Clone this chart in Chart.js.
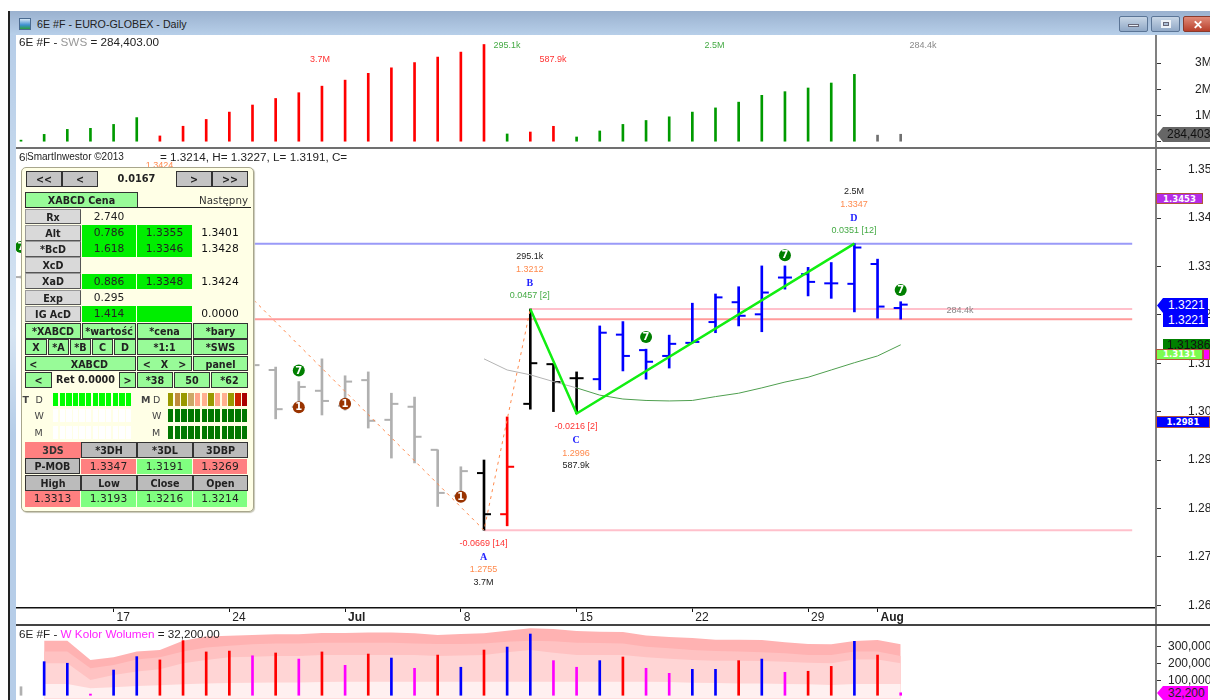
<!DOCTYPE html>
<html><head><meta charset="utf-8">
<script src="https://cdn.jsdelivr.net/npm/chart.js@4"></script>
<style>
html,body{margin:0;padding:0;background:#fff;width:1210px;height:700px;overflow:hidden;font-family:"Liberation Sans",Arial,sans-serif}
canvas{position:absolute;left:0}
.a{position:absolute;box-sizing:border-box;white-space:nowrap}
.p{position:absolute;box-sizing:border-box;white-space:nowrap;text-align:center;font-family:"DejaVu Sans",sans-serif;font-size:10.7px;color:#222}
.btn{background:#c4c4c4;border:1px solid #333;font-weight:bold;font-size:9.6px;color:#222}
.grn{background:#98fb98;border:1px solid #333;font-weight:bold;font-size:9.6px;color:#222}
.lab{background:#d9d9d9;border:1px solid #999;border-bottom-color:#555;border-right-color:#555;font-weight:bold;font-size:9.6px;color:#222}
</style></head><body>
<script>
// ---------- data ----------
const barIndex = [0,1,2,3,4,5,6,7,8,9,10,11,12,13,14,15,16,17,18,19,20,21,22,23,24,25,26,27,28,29,30,31,32,33,34,35,36,37,38];
const swsM = [.06,.28,.47,.51,.66,.92,.22,.59,.85,1.13,1.40,1.65,1.87,2.12,2.35,2.61,2.82,3.02,3.23,3.42,3.71,.295,.37,.588,.18,.41,.66,.81,.95,1.13,1.29,1.51,1.77,1.91,2.05,2.24,2.57,.25,.284];
const swsKind = 'gggggg' + 'rrrrrrrrrrrrrrr' + 'g' + 'rr' + 'ggggggggggggg' + 'nn';
const open_ = [1.3278,null,null,null,null,null,null,null,null,null,1.3060,1.3086,1.3010,1.3043,1.3012,1.3065,1.2983,1.3010,1.2921,1.2826,1.2873,1.2788,1.3016,1.3098,1.3069,1.3067,1.3159,1.3127,1.3115,1.3142,1.3185,1.3226,1.3201,1.3277,1.3284,1.3265,1.3264,1.3305,1.3214];
const high_ = [1.3280,null,null,null,null,null,null,null,null,null,1.3110,1.3092,1.3062,1.3109,1.3074,1.3082,1.3038,1.3030,1.2921,1.2886,1.2900,1.2989,1.3212,1.3098,1.3082,1.3177,1.3186,1.3129,1.3158,1.3224,1.3243,1.3258,1.3301,1.3301,1.3298,1.3308,1.3347,1.3315,1.3227];
const low_  = [1.3276,null,null,null,null,null,null,null,null,null,1.3040,1.2985,1.3007,1.2993,1.3003,1.2966,1.2904,1.2894,1.2804,1.2817,1.2755,1.2764,1.3005,1.3000,1.2996,1.3045,1.3084,1.3067,1.3090,1.3142,1.3163,1.3177,1.3165,1.3253,1.3239,1.3234,1.3206,1.3193,1.3191];
const close_= [1.3278,null,null,null,null,null,null,null,null,null,1.3096,1.3005,1.3051,1.3022,1.3062,1.2981,1.3016,1.2948,1.2832,1.2877,1.2788,1.2886,1.3100,1.3061,1.3069,1.3163,1.3115,1.3103,1.3140,1.3144,1.3236,1.3198,1.3246,1.3277,1.3268,1.3265,1.3339,1.3217,1.3221];
const ohlcKind = 'ssssssssssssssssssss' + 'k' + 'r' + 'kkk' + 'bbbbbbbbbbbbbb';
const maIndex = [20,21,22,23,24,25,26,27,28,29,30,31,32,33,34,35,36,37,38];
const maValue = [1.3109,1.3086,1.3076,1.3062,1.3049,1.3034,1.3026,1.3023,1.3022,1.3023,1.3031,1.3038,1.3049,1.3061,1.3071,1.3086,1.3101,1.3115,1.3138];
const pivotName = ['X','A','B','C','D'];
const pivotIndex = [6,20,22,24,36];
const pivotPrice = [1.3424,1.2755,1.3212,1.2996,1.3347];
const pivotDelta = ['','-0.0669 [14]','0.0457 [2]','-0.0216 [2]','0.0351 [12]'];
const pivotSws = ['','3.7M','295.1k','587.9k','2.5M'];
const levelA = 1.2755, levelB = 1.3212, levelD = 1.3347, levelL = 1.3191;
const levelEnd = 48;
const sevenIndex = [0,12,27,33,38];
const sevenPrice = [1.3340,1.3085,1.3154,1.3323,1.3251];
const oneIndex = [12,14,19];
const onePrice = [1.3009,1.3016,1.2824];
const priceTicks = [1.26,1.27,1.28,1.29,1.30,1.31,1.32,1.33,1.34,1.35];
const swsTicks = [0,1,2,3];
const volTicks = [100000,200000,300000];
const dateTickIndex = [4,9,14,19,24,29,34,37];
const dateTickLabel = ['17','24','Jul','8','15','22','29','Aug'];
const volK = [67,211,202,25,163,240,221,332,267,272,245,261,226,267,190,255,232,173,249,179,278,295,370,217,179,217,238,173,144,167,167,217,226,150,156,184,328,249,32.2];
const volKind = 'n' + 'bb' + 'm' + 'bb' + 'rrrr' + 'm' + 'r' + 'm' + 'r' + 'm' + 'r' + 'b' + 'm' + 'r' + 'b' + 'r' + 'bb' + 'mm' + 'b' + 'r' + 'mm' + 'bb' + 'r' + 'b' + 'm' + 'rr' + 'b' + 'r' + 'm';
const bandIndex = [1,2,3,4,5,6,7,8,9,10,11,12,13,14,15,16,17,18,19,20,21,22,23,24,25,26,27,28,29,30,31,32,33,34,35,36,37,38];
const band4 = [332,332,221,236,269,278,332,355,360,364,368,368,376,376,378,378,374,364,370,374,389,403,399,387,383,382,362,353,347,337,337,336,322,313,311,330,336,311];
const band3 = [269,269,173,192,224,236,269,292,303,311,316,316,320,320,320,320,316,313,313,316,326,332,328,320,318,316,297,288,278,272,269,265,259,249,249,269,269,244];
const band2 = [202,202,106,134,154,167,202,221,236,240,244,244,249,249,249,249,249,244,246,249,265,278,263,249,249,249,236,228,221,217,217,215,211,205,202,224,224,202];
const band1 = [83,83,58,64,71,75,81,85,88,90,92,92,94,96,96,96,96,96,96,96,96,96,96,96,96,96,96,94,90,88,86,85,83,81,77,83,83,83];

// ---------- scale frames ----------
const XMIN=-0.216, XMAX=48.985;
const palette={g:'#009a00',r:'#ff0000',n:'#707070',s:'#b0b0b0',k:'#000000',b:'#0000ff',m:'#ff00ff'};
const AXFONT={family:'"Liberation Sans",Arial,sans-serif',size:12};
function yScale(min,max,ticks,cb,pad){
  return {position:'right',min,max,
    afterBuildTicks:s=>{s.ticks=ticks.map(v=>({value:v}));},
    afterFit:s=>{s.width=55;s.paddingTop=0;s.paddingBottom=0;},
    border:{display:false},
    grid:{drawOnChartArea:false,drawTicks:true,tickLength:6,tickColor:'#333',tickWidth:1},
    ticks:{callback:cb,font:AXFONT,color:'#222',padding:pad,crossAlign:'near',autoSkip:false}};
}
function xHidden(){return {type:'linear',min:XMIN,max:XMAX,offset:false,display:false,grid:{offset:false}};}
function mk(id,top,h){const c=document.createElement('canvas');c.id=id;c.width=1210;c.height=h;c.style.top=top+'px';c.style.width='1210px';c.style.height=h+'px';document.body.appendChild(c);return c;}
const base={responsive:false,animation:false,events:[],devicePixelRatio:1,layout:{autoPadding:false,padding:{left:16,right:0,top:0,bottom:0}},plugins:{legend:{display:false},tooltip:{enabled:false}}};

// ---------- SWS panel ----------
new Chart(mk('sws',35,112),{type:'bar',data:{datasets:[{
  data:barIndex.map(i=>({x:i,y:swsM[i]})),
  backgroundColor:barIndex.map(i=>palette[swsKind[i]]),barThickness:2}]},
  options:{...base,scales:{x:xHidden(),y:yScale(-0.2023,4.0725,swsTicks,v=>v?v+'M':'',34)}}});

// ---------- price panel ----------
const Y0=411.6,PX=4840;
const PMAX=1.30+(Y0-148)/PX, PMIN=1.30+(Y0-608)/PX;
const held=barIndex.filter(i=>high_[i]!==null);
const dashDs=(arr,rot)=>({type:'scatter',order:5,data:held.map(i=>({x:i,y:arr[i]})),pointStyle:'dash',pointRadius:7,pointBorderWidth:2,pointRotation:rot,
  pointBorderColor:c=>palette[ohlcKind[c.raw.x]],pointBackgroundColor:'transparent'});
const hline=(from,v,col,w)=>({type:'line',order:20,data:[{x:from,y:v},{x:levelEnd,y:v}],borderColor:col,borderWidth:w,pointRadius:0,fill:false});
const pt=(idx,arr)=>idx.map((v,k)=>({x:v,y:arr[k]}));
const textPlugin={id:'texts',afterDatasetsDraw(ch){
  const c=ch.ctx,x=ch.scales.x,y=ch.scales.y;
  c.save();c.textAlign='center';c.textBaseline='middle';
  const F='"Liberation Sans",Arial,sans-serif';
  const put=(s,px,py,col,font)=>{c.fillStyle=col;c.font=font;c.fillText(s,px,py);};
  c.beginPath();c.rect(0,0,1155,460);c.clip();
  pivotName.forEach((n,k)=>{
    const px=x.getPixelForValue(pivotIndex[k])-0.5,py=y.getPixelForValue(pivotPrice[k]);
    const price=pivotPrice[k].toFixed(4),d=pivotDelta[k],v=pivotSws[k];
    const nF='bold 10px "Liberation Serif",serif',sF='9px '+F;
    if(n==='X'){put(price,px,py-41,'#ff8a4d',sF);return;}
    if(n==='A'||n==='C'){
      put(d,px,py+13,'#ff3333',sF);put(n,px,py+27,'#2222ff',nF);put(price,px,py+39.5,'#ff8a4d',sF);put(v,px,py+52,'#222',sF);
    }else{
      put(v,px,py-52.5,'#222',sF);put(price,px,py-39,'#ff8a4d',sF);put(n,px,py-25.5,'#2222ff',nF);put(d,px,py-13.5,'#44aa44',sF);
    }
  });
  const df='bold 10px "DejaVu Sans",sans-serif';
  sevenIndex.forEach((v,k)=>put('7',x.getPixelForValue(v),y.getPixelForValue(sevenPrice[k])+.5,'#fff',df));
  oneIndex.forEach((v,k)=>put('1',x.getPixelForValue(v),y.getPixelForValue(onePrice[k])+.5,'#fff',df));
  c.restore();
}};
new Chart(mk('price',148,476),{type:'bar',plugins:[textPlugin],data:{datasets:[
  hline(0,levelL,'#ff9a9a',2),hline(pivotIndex[2],levelB,'#ffc0cb',2),hline(pivotIndex[1],levelA,'#ffc0cb',2),hline(0,levelD,'#9a9af8',2),
  {type:'bar',order:6,data:held.map(i=>({x:i,y:[low_[i],high_[i]]})),backgroundColor:held.map(i=>palette[ohlcKind[i]]),barThickness:2},
  dashDs(open_,180),dashDs(close_,0),
  {type:'line',order:4,data:pt(maIndex,maValue),borderWidth:1,pointRadius:0,fill:false,borderColor:'#4f9f4f',
    segment:{borderColor:c=>c.p0.parsed.x<24?'#b4b4b4':'#4f9f4f'}},
  {type:'line',order:3,data:pt(pivotIndex.slice(0,3),pivotPrice.slice(0,3)),borderColor:'#ff8a4d',borderWidth:1,borderDash:[3,4],pointRadius:0,fill:false},
  {type:'line',order:2,data:pt(pivotIndex.slice(2),pivotPrice.slice(2)),borderColor:'#11ee11',borderWidth:2.5,pointRadius:0,fill:false},
  {type:'scatter',order:1,data:pt(sevenIndex,sevenPrice),pointStyle:'circle',pointRadius:6,pointBorderWidth:0,pointBackgroundColor:'#007f00'},
  {type:'scatter',order:1,data:pt(oneIndex,onePrice),pointStyle:'circle',pointRadius:6,pointBorderWidth:0,pointBackgroundColor:'#993300'}
]},options:{...base,scales:{
  x:{type:'linear',min:XMIN,max:XMAX,offset:false,position:'bottom',
    afterBuildTicks:s=>{s.ticks=dateTickIndex.map(v=>({value:v}));},
    afterFit:s=>{s.height=16;s.paddingLeft=0;s.paddingRight=0;},
    border:{display:true,color:'#111',width:1.5},
    grid:{offset:false,drawOnChartArea:false,drawTicks:true,tickLength:4,tickColor:'#111',tickWidth:1},
    ticks:{autoSkip:false,maxRotation:0,minRotation:0,align:'start',labelOffset:3,padding:-2,color:'#222',
      font:c=>({family:AXFONT.family,size:12,weight:/[a-z]/i.test(dateTickLabel[c.index]||'')?'bold':'normal'}),
      callback:v=>dateTickLabel[dateTickIndex.indexOf(v)]}},
  y:yScale(PMIN,PMAX,priceTicks,v=>v.toFixed(2),27)}}});

// ---------- volume panel ----------
const vb=(arr,col,ord)=>({type:'line',order:ord,data:bandIndex.map((v,k)=>({x:v,y:arr[k]*1000})),backgroundColor:col,borderWidth:0,pointRadius:0,fill:'origin'});
new Chart(mk('vol',625,75),{type:'bar',data:{datasets:[
  vb(band4,'#ffb2b2',14),vb(band3,'#ffc2c2',13),vb(band2,'#ffd5d5',12),vb(band1,'#fff0f0',11),
  {type:'bar',order:1,base:18000,data:barIndex.map(i=>({x:i,y:volK[i]*1000})),backgroundColor:barIndex.map(i=>volKind[i]==='n'?'#b0b0b0':palette[volKind[i]]),barThickness:2}
]},options:{...base,scales:{x:xHidden(),y:yScale(-9200,421800,volTicks,v=>v.toLocaleString('en-US'),7)}}});

// ---------- window chrome ----------
function div(cls,x0,y0,x1,y1,css,html){const d=document.createElement('div');d.className=cls;d.style.cssText=`left:${x0}px;top:${y0}px;width:${x1-x0}px;height:${y1-y0}px;line-height:${y1-y0}px;`+(css||'');if(html!==undefined)d.innerHTML=html;document.body.appendChild(d);return d;}
div('a',8,11,10,700,'background:#222');
div('a',10,35,16,700,'background:linear-gradient(#b6cde8,#d6e4f2 45%,#b6cde8 60%,#b6cde8)');
div('a',10,11,1210,35,'background:linear-gradient(#9ab1cf,#b7cfe9)');
div('a',19,18,31,30,'background:linear-gradient(#d5e6f5,#3c8fd0 60%,#2aa040);border:1px solid #4a6a90');
div('a',37,16,400,32,'font-size:10.7px;color:#222','6E #F - EURO-GLOBEX - Daily');
const wb='border:1px solid #5b7596;border-radius:2px;text-align:center;font-weight:bold;color:#fff;';
div('a',1119,16,1148,32,wb+'background:linear-gradient(#c8d6e6,#90a8c6)');
div('a',1128,24,1139,27,'background:#e8eef6;border:1px solid #667');
div('a',1151,16,1180,32,wb+'background:linear-gradient(#c8d6e6,#90a8c6)');
div('a',1161,20,1171,28,'border:2px solid #eef3f8;outline:1px solid #667;outline-offset:-3px');
div('a',1183,16,1212,32,wb+'background:linear-gradient(#e08a78,#b8402c);font-size:12px;border-color:#8a3a2c;border-radius:2px','✕');
div('a',1155,35,1157,700,'background:#808080');
div('a',16,147,1210,148.5,'background:#707070');
div('a',16,624,1210,625.5,'background:#444');

// headings
div('a',19,35,500,49,'font-size:11.7px;color:#222','6E #F - <span style="color:#999">SWS</span> = 284,403.00');
div('a',19,150,30,164,'font-size:11.7px;color:#222','6E');
div('a',27,150,130,164,'font-size:10px;color:#222;background:#fff','SmartInwestor ©2013');
div('a',160,150,520,164,'font-size:11.7px;color:#222','= 1.3214, H= 1.3227, L= 1.3191, C=');
div('a',19,627,500,641,'font-size:11.7px;color:#222','6E #F - <span style="color:#ff22ff">W Kolor Wolumen</span> = 32,200.00');
const tag=(x,y,s,col)=>div('a',x-30,y-6,x+30,y+6,`font-size:9px;text-align:center;color:${col}`,s);
tag(320,59,'3.7M','#ff3333');tag(507,45,'295.1k','#44aa44');tag(553,59,'587.9k','#ff3333');tag(714.5,45,'2.5M','#44aa44');tag(923,45,'284.4k','#888');tag(960,310,'284.4k','#888');

// right-hand value tags
div('a',1157,127,1210,142,'background:#666;clip-path:polygon(0 50%,6px 0,100% 0,100% 100%,6px 100%);font-size:12px;color:#111;padding-left:10px;line-height:15px','284,403');
div('a',1156,192.5,1203,204,'background:#b52be8;border:1px solid #b3563a;color:#fff;font:bold 8.5px/10px "DejaVu Sans";text-align:center','1.3453');
div('a',1157,298,1208,327,'background:#0000ff;clip-path:polygon(0 7.5px,6px 0,100% 0,100% 100%,6px 100%,6px 15px);color:#fff;font-size:12px;line-height:14.5px;padding-left:11px','1.3221<br>1.3221');
div('a',1163,339,1210,349,'background:#008000;color:#111;font-size:12px;line-height:12px;padding-left:4px;overflow:hidden','1.31386');
div('a',1156,349,1203,360,'background:#7cfc50;border:1px solid #b3563a;color:#fff;font:bold 8.5px/9.5px "DejaVu Sans";text-align:center','1.3131');
div('a',1203,349,1210,360,'background:#ff00ff;border:1px solid #b3563a');
div('a',1156,415.5,1210,427.5,'background:#0000ff;border:1px solid #b3563a;color:#fff;font:bold 8.5px/10px "DejaVu Sans";text-align:center','1.2981');
div('a',1157,686,1208,700,'background:#ff00ff;clip-path:polygon(0 50%,6px 0,100% 0,100% 100%,6px 100%);font-size:12px;color:#222;padding-left:11px;line-height:14px','32,200');

// ---------- XABCD panel ----------
div('a',21,167,254,512,'background:#ffffe6;border:1px solid #a8a68c;border-radius:5px;box-shadow:1px 1px 1px #c8c8b8');
const P=(c,x0,y0,x1,y1,t,css)=>div('p '+c,x0,y0,x1,y1,css||'',t);
P('btn',26,171,62,187,'&lt;&lt;');P('btn',62,171,98,187,'&lt;');P('',98,171,175,187,'0.0167','font-weight:bold;font-size:9.8px');P('btn',176,171,212,187,'&gt;');P('btn',212,171,248,187,'&gt;&gt;');
P('grn',25,192,138,208,'XABCD Cena');P('',192,192,248,208,'Następny','font-size:10.3px;text-align:right;color:#333');
div('a',25,207,251,208,'background:#222');
const cols=[[25,81],[81,136],[137,192],[192,248]];
const G='background:#00ee00;';
const rows=[['Rx','2.740','',''],['Alt','0.786','1.3355','1.3401'],['*BcD','1.618','1.3346','1.3428'],['XcD','','',''],['XaD','0.886','1.3348','1.3424'],['Exp','0.295','',''],['IG AcD','1.414','','0.0000']];
const gridRows=[1,2,4,6];
rows.forEach((r,k)=>{const y=208.5+k*16.2,y2=y+16.2;
  P('lab',25,y,81,y2-.3,r[0]);
  const g=gridRows.includes(k);
  P('',82,y+.3,136,y2-.3,r[1],g?G:'');
  P('',137,y+.3,192,y2-.3,r[2],g?G:'');
  P('',192,y+.3,248,y2-.3,r[3],'color:#111');
});
[[25,81,'*XABCD'],[82,136,'*wartość'],[137,192,'*cena'],[193,248,'*bary']].forEach(a=>P('grn',a[0],322.5,a[1],338.5,a[2]));
[[25,47,'X'],[48,69,'*A'],[70,91,'*B'],[92,113,'C'],[114,136,'D'],[137,192,'*1:1'],[193,248,'*SWS']].forEach(a=>P('grn',a[0],339,a[1],355,a[2]));
[[25,136,'&nbsp;&lt;&nbsp;&nbsp;&nbsp;&nbsp;&nbsp;&nbsp;&nbsp;&nbsp;&nbsp;&nbsp;XABCD&nbsp;&nbsp;&nbsp;&nbsp;&nbsp;&nbsp;&nbsp;&nbsp;&nbsp;&nbsp;&gt;'],[137,192,'&lt;&nbsp;&nbsp;&nbsp;X&nbsp;&nbsp;&nbsp;&gt;'],[193,248,'panel']].forEach(a=>P('grn',a[0],355.5,a[1],371,a[2]));
P('grn',25,372,52,387.5,'&lt;');P('',53,372,118,387.5,'Ret 0.0000','font-weight:bold;font-size:9.6px');P('grn',119,372,136,387.5,'&gt;');
P('grn',137,372,173,387.5,'*38');P('grn',174,372,210,387.5,'50');P('grn',211,372,248,387.5,'*62');
// status ladders
const sm='font-size:9.5px;';
[['T',26.5,393,'bold'],['D',39.5,393],['W',38.5,409],['M',38.5,425.5],['M',145,393,'bold'],['D',157,393],['W',156,409],['M',156,425.5]].forEach(a=>div('p',a[1]-4,a[2],a[1]+8,a[2]+13,sm+'text-align:left;color:#444;'+(a[3]?'font-weight:bold':''),a[0]));
const rowD=['#999900','#c08a3c','#999900','#cca866','#ffa488','#ffb090','#999900','#ffa488','#ffb090','#999900','#cc2200','#aa0000'];
for(let i=0;i<12;i++){
  const xL=53+i*6.62,xR=168+i*6.72;
  div('a',xL,393,xL+5.4,406,'background:#00ff00');
  div('a',xL,409,xL+5.4,422,'background:#ffffff');
  div('a',xL,425.5,xL+5.4,438.5,'background:#ffffff');
  div('a',xR,393,xR+5.4,406,'background:'+rowD[i]);
  div('a',xR,409,xR+5.4,422,'background:#007700');
  div('a',xR,425.5,xR+5.4,438.5,'background:#007700');
}
const S='background:#ff8080;',LG='background:#80ff80;';
P('btn',25,441.5,81,458,'3DS','background:#ff8080;border-color:#ff8080;color:#333');
P('btn',81,441.5,137,458,'*3DH','background:#bbb');P('btn',137,441.5,193,458,'*3DL','background:#bbb');P('btn',193,441.5,248,458,'3DBP','background:#bbb');
P('btn',25,458,80,474,'P-MOB','background:#bbb');P('',81,458.5,136,474,'1.3347',S);P('',137,458.5,192,474,'1.3191',LG);P('',193,458.5,247,474,'1.3269',S);
P('btn',25,475,81,491,'High','background:#bbb');P('btn',81,475,137,491,'Low','background:#bbb');P('btn',137,475,193,491,'Close','background:#bbb');P('btn',193,475,248,491,'Open','background:#bbb');
P('',25,491,80,507,'1.3313',S);P('',81,491,136,507,'1.3193',LG);P('',137,491,192,507,'1.3216',LG);P('',193,491,247,507,'1.3214',LG);
</script>
</body></html>
